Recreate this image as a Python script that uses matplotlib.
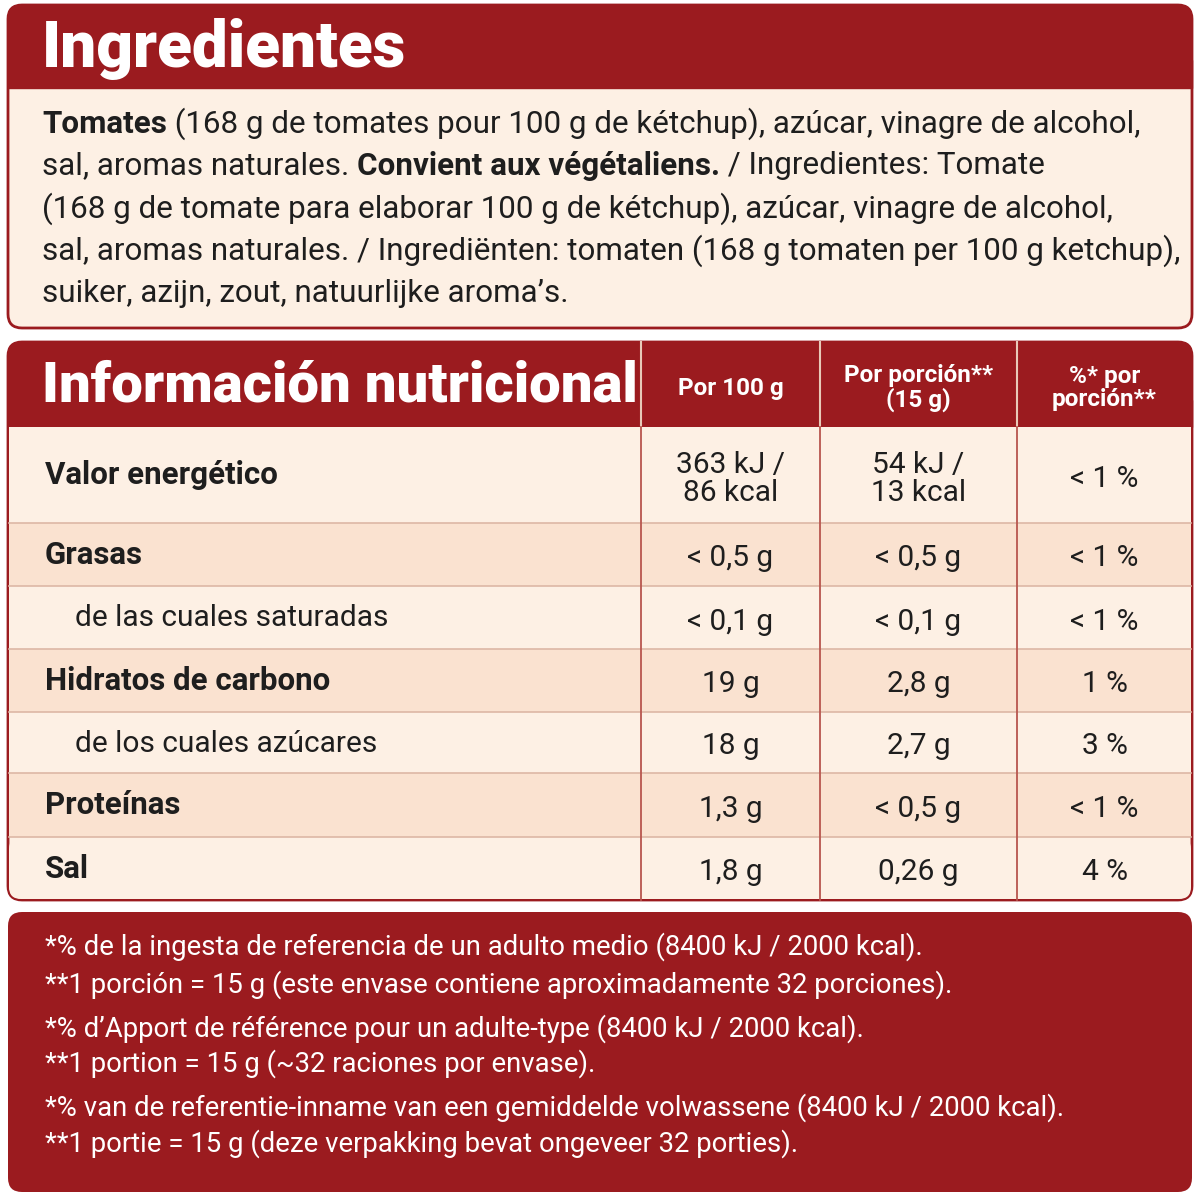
import matplotlib
matplotlib.use("Agg")
import matplotlib.pyplot as plt
from matplotlib.patches import FancyBboxPatch, Rectangle

RED = "#9B1B1F"
CREAM = "#FDF0E4"
PEACH = "#FAE2D0"
INK = "#1E1E1E"
FONT = "Roboto"

title_ing = "Ingredientes"
ingredient_lines = [
    [("Tomates", "bold"), (" (168 g de tomates pour 100 g de kétchup), azúcar, vinagre de alcohol,", "normal")],
    [("sal, aromas naturales. ", "normal"), ("Convient aux végétaliens.", "bold"), (" / Ingredientes: Tomate", "normal")],
    [("(168 g de tomate para elaborar 100 g de kétchup), azúcar, vinagre de alcohol,", "normal")],
    [("sal, aromas naturales. / Ingrediënten: tomaten (168 g tomaten per 100 g ketchup),", "normal")],
    [("suiker, azijn, zout, natuurlijke aroma’s.", "normal")],
]
title_nut = "Información nutricional"
col_headers = ["Por 100 g", "Por porción**\n(15 g)", "%* por\nporción**"]
nutrients = ["Valor energético", "Grasas", "de las cuales saturadas", "Hidratos de carbono",
             "de los cuales azúcares", "Proteínas", "Sal"]
indent = [False, False, True, False, True, False, False]
per100 = ["363 kJ /\n86 kcal", "< 0,5 g", "< 0,1 g", "19 g", "18 g", "1,3 g", "1,8 g"]
perportion = ["54 kJ /\n13 kcal", "< 0,5 g", "< 0,1 g", "2,8 g", "2,7 g", "< 0,5 g", "0,26 g"]
pct = ["< 1 %", "< 1 %", "< 1 %", "1 %", "3 %", "< 1 %", "4 %"]
footnotes = [
    "*% de la ingesta de referencia de un adulto medio (8400 kJ / 2000 kcal).",
    "**1 porción = 15 g (este envase contiene aproximadamente 32 porciones).",
    "*% d’Apport de référence pour un adulte-type (8400 kJ / 2000 kcal).",
    "**1 portion = 15 g (~32 raciones por envase).",
    "*% van de referentie-inname van een gemiddelde volwassene (8400 kJ / 2000 kcal).",
    "**1 portie = 15 g (deze verpakking bevat ongeveer 32 porties).",
]
foot_y = [947, 985, 1029, 1064, 1108, 1144]

fig = plt.figure(figsize=(12, 12), dpi=100)
ax = fig.add_axes([0, 0, 1, 1])
ax.set_xlim(0, 1200); ax.set_ylim(1200, 0); ax.axis("off")
fig.patch.set_facecolor("white")
r = fig.canvas.get_renderer()

def rbox(x0, y0, x1, y1, fc, ec=None, lw=0, z=1):
    ax.add_patch(FancyBboxPatch((x0, y0), x1 - x0, y1 - y0, boxstyle="round,pad=0,rounding_size=14",
                                fc=fc, ec=ec or fc, lw=lw, zorder=z))

# Ingredients box
rbox(8, 5, 1192, 328, CREAM, RED, 2)
ax.add_patch(FancyBboxPatch((8, 5), 1184, 83, boxstyle="round,pad=0,rounding_size=14", fc=RED, ec=RED, zorder=2))
ax.add_patch(Rectangle((8, 60), 1184, 28, fc=RED, ec=RED, zorder=2))
ax.text(42, 49, title_ing, color="white", fontsize=46, fontweight="black", family=FONT, va="center", zorder=3)

ys = [124, 166, 209, 251, 293]
for y, runs in zip(ys, ingredient_lines):
    x = 42
    for txt, w in runs:
        t = ax.text(x, y, txt, fontsize=22.6, fontweight=w, family=FONT, color=INK, va="center", zorder=3)
        x += t.get_window_extent(r).width

# Nutrition table
rbox(8, 342, 1192, 900, CREAM, RED, 2)
ax.add_patch(FancyBboxPatch((8, 342), 1184, 85, boxstyle="round,pad=0,rounding_size=14", fc=RED, ec=RED, zorder=2))
ax.add_patch(Rectangle((8, 400), 1184, 27, fc=RED, ec=RED, zorder=2))
ax.text(42, 386, title_nut, color="white", fontsize=40.5, fontweight="black", family=FONT, va="center", zorder=3)
cols = [8, 641, 820, 1017, 1192]
centers = [(cols[i] + cols[i + 1]) / 2 for i in range(1, 4)]
for cx, h in zip(centers, col_headers):
    ax.text(cx, 388, h, color="white", fontsize=17.5, fontweight="bold", family=FONT, ha="center", va="center",
            linespacing=1.0, zorder=3)
for xc in cols[1:4]:
    ax.plot([xc, xc], [342, 427], color="#E8C9B8", lw=1.5, zorder=3)

rows = [427, 523, 586, 649, 712, 773, 837, 900]
for i in range(len(nutrients)):
    y0, y1 = rows[i], rows[i + 1]
    fc = PEACH if i % 2 == 1 else CREAM
    if i == len(nutrients) - 1:
        ax.add_patch(FancyBboxPatch((9, y0), 1182, y1 - y0 - 1, boxstyle="round,pad=0,rounding_size=12",
                                    fc=fc, ec="none", zorder=2))
    else:
        ax.add_patch(Rectangle((9, y0), 1182, y1 - y0, fc=fc, ec="none", zorder=2))
    yc = (y0 + y1) / 2
    if indent[i]:
        ax.text(75, yc + 1, nutrients[i], fontsize=21.5, family=FONT, color=INK, va="center", zorder=3)
    else:
        ax.text(45, yc, nutrients[i], fontsize=22.5, fontweight="bold", family=FONT, color=INK, va="center", zorder=3)
    for cx, v in zip(centers, [per100[i], perportion[i], pct[i]]):
        ax.text(cx, yc + 4, v, fontsize=21.5, family=FONT, color=INK, ha="center", va="center",
                linespacing=1.0, zorder=3)
for y in rows[1:-1]:
    ax.plot([9, 1191], [y, y], color="#DDB7A5", lw=1.2, zorder=3)
for xc in cols[1:4]:
    ax.plot([xc, xc], [427, 900], color="#B8564E", lw=1.3, zorder=3)

# Footnotes
rbox(8, 912, 1192, 1192, RED)
for y, t in zip(foot_y, footnotes):
    ax.text(45, y, t, fontsize=19.8, family=FONT, color="white", va="center", zorder=3)

fig.savefig("out.png", dpi=100)
